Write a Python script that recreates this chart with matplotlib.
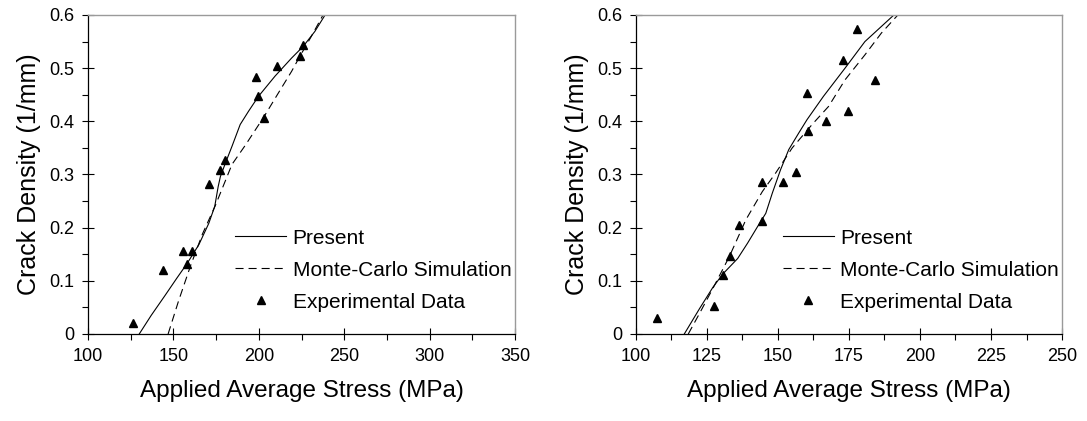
import matplotlib
matplotlib.use("Agg")
import matplotlib.pyplot as plt
from matplotlib.ticker import MultipleLocator, FuncFormatter
from matplotlib.lines import Line2D

plt.rcParams['font.family'] = ['Liberation Sans', 'DejaVu Sans']
plt.rcParams['lines.scale_dashes'] = False

# --- left panel data ---
left_present_x = [130.0, 137.0, 145.0, 152.0, 158.1, 164.9, 170.7, 174.2, 176.2, 177.5,
                  180.4, 184.3, 189.1, 194.0, 199.8, 209.5, 219.2, 226.0, 232.8, 238.8]
left_present_y = [0.0, 0.035, 0.072, 0.105, 0.133, 0.168, 0.208, 0.240, 0.277, 0.296,
                  0.321, 0.353, 0.394, 0.419, 0.447, 0.485, 0.519, 0.541, 0.569, 0.600]
left_mc_x = [146.9, 153.0, 160.0, 167.0, 174.6, 180.4, 184.3, 192.1, 203.1, 211.4,
             219.2, 224.0, 230.8, 237.6]
left_mc_y = [0.0, 0.062, 0.128, 0.188, 0.242, 0.288, 0.319, 0.355, 0.409, 0.453,
             0.494, 0.522, 0.560, 0.600]
left_exp_x = [126.2, 144.0, 155.8, 161.0, 158.1, 170.7, 177.5, 180.4, 198.4, 199.8,
              203.1, 210.5, 224.0, 225.6]
left_exp_y = [0.020, 0.120, 0.157, 0.157, 0.131, 0.282, 0.309, 0.328, 0.483, 0.447,
              0.406, 0.505, 0.522, 0.543]

# --- right panel data ---
right_present_x = [117.0, 122.4, 127.1, 130.6, 135.8, 139.3, 142.8, 145.7, 148.0, 150.9,
                   153.8, 157.3, 160.2, 166.0, 173.6, 180.6, 190.8]
right_present_y = [0.0, 0.048, 0.088, 0.113, 0.142, 0.171, 0.202, 0.227, 0.265, 0.309,
                   0.347, 0.378, 0.403, 0.447, 0.500, 0.550, 0.600]
right_mc_x = [118.4, 122.4, 127.1, 132.9, 138.7, 144.5, 149.2, 155.0, 162.0, 167.8,
              173.6, 180.6, 186.4, 192.2]
right_mc_y = [0.0, 0.039, 0.086, 0.146, 0.215, 0.268, 0.303, 0.350, 0.394, 0.428,
              0.478, 0.525, 0.566, 0.600]
right_exp_x = [107.3, 127.3, 130.6, 133.1, 136.2, 144.3, 144.5, 151.7, 156.2, 160.3,
               160.6, 166.9, 173.0, 174.5, 177.7, 184.0]
right_exp_y = [0.030, 0.053, 0.111, 0.147, 0.205, 0.212, 0.285, 0.285, 0.304, 0.453,
               0.381, 0.401, 0.516, 0.420, 0.574, 0.478]

labels = ['Present', 'Monte-Carlo Simulation', 'Experimental Data']
dash = (0, (5.8, 3.6))


def ytick_fmt(v, pos):
    return '0' if abs(v) < 1e-9 else '%.1f' % v


def draw_panel(ax, px, py, mx, my, ex, ey, xlim, xmajor):
    ax.plot(px, py, color='black', lw=0.8, solid_joinstyle='round')
    ax.plot(mx, my, color='black', lw=0.8, linestyle=dash)
    ax.plot(ex, ey, linestyle='none', marker='^', color='black', ms=6.3)

    ax.set_xlim(*xlim)
    ax.set_ylim(0, 0.6)
    ax.xaxis.set_major_locator(MultipleLocator(xmajor))
    ax.xaxis.set_minor_locator(MultipleLocator(xmajor / 2))
    ax.yaxis.set_major_locator(MultipleLocator(0.1))
    ax.yaxis.set_minor_locator(MultipleLocator(0.05))
    ax.yaxis.set_major_formatter(FuncFormatter(ytick_fmt))

    for s in ['top', 'right']:
        ax.spines[s].set_color('#9a9a9a')
        ax.spines[s].set_linewidth(1.0)
    for s in ['left', 'bottom']:
        ax.spines[s].set_color('black')
        ax.spines[s].set_linewidth(0.9)

    ax.tick_params(which='major', direction='inout', length=8, width=0.8,
                   labelsize=13, pad=6)
    ax.tick_params(which='minor', direction='out', length=4, width=0.8)
    ax.tick_params(top=False, right=False, which='both')

    ax.set_xlabel('Applied Average Stress (MPa)', fontsize=17.5, labelpad=11)
    ax.set_ylabel('Crack Density (1/mm)', fontsize=18, labelpad=6)

    handles = [
        Line2D([], [], color='black', lw=0.8),
        Line2D([], [], color='black', lw=0.8, linestyle=dash),
        Line2D([], [], color='black', linestyle='none', marker='^', ms=6.3),
    ]
    ax.legend(handles, labels, loc='center left', bbox_to_anchor=(0.345, 0.2),
              frameon=False, fontsize=15, handlelength=2.45, handletextpad=0.3,
              labelspacing=0.62, borderpad=0, borderaxespad=0)


fig = plt.figure(figsize=(10.87, 4.21), dpi=100)
ax1 = fig.add_axes([88 / 1087, 87 / 421, 427 / 1087, 319 / 421])
ax2 = fig.add_axes([636 / 1087, 87 / 421, 426 / 1087, 319 / 421])

draw_panel(ax1, left_present_x, left_present_y, left_mc_x, left_mc_y,
           left_exp_x, left_exp_y, (100, 350), 50)
draw_panel(ax2, right_present_x, right_present_y, right_mc_x, right_mc_y,
           right_exp_x, right_exp_y, (100, 250), 25)

fig.savefig('out.png', dpi=100)
